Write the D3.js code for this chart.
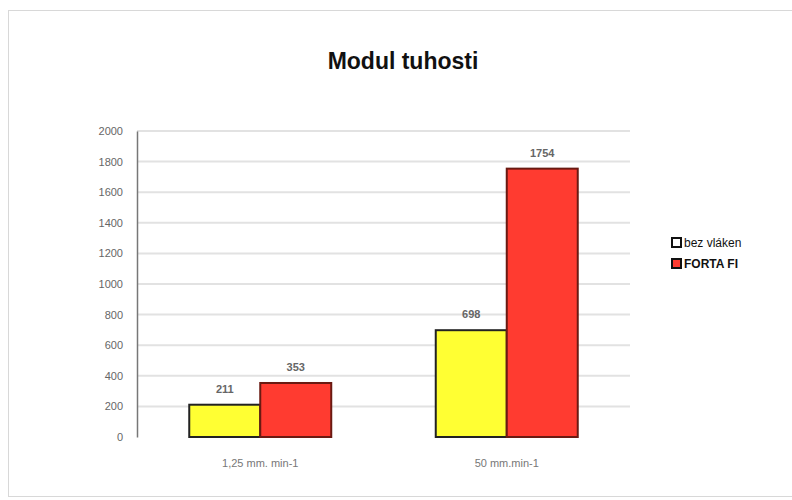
<!DOCTYPE html>
<html lang="cs">
<head>
<meta charset="utf-8">
<title>Modul tuhosti</title>
<style>
  body { margin: 0; background: #fff; }
  svg { display: block; font-family: Arial, "Liberation Sans", sans-serif; }
</style>
</head>
<body>
<svg width="792" height="500"></svg>
<script src="https://d3js.org/d3.v7.min.js"></script>
<script>
const categories = ["1,25 mm. min-1", "50 mm.min-1"];
const seriesNames = ["bez vláken", "FORTA FI"];
const bezVlaken = [211, 698];
const fortaFi = [353, 1754];
const yTicks = [0, 200, 400, 600, 800, 1000, 1200, 1400, 1600, 1800, 2000];

const fills = ["#ffff33", "#ff3b30"];
const strokes = ["#222", "#6a1a12"];

const svg = d3.select("svg");

// outer frame
svg.append("rect")
  .attr("x", 8.5).attr("y", 10.5)
  .attr("width", 790).attr("height", 486)
  .attr("fill", "none").attr("stroke", "#d8d8d8");

svg.append("text")
  .attr("x", 403).attr("y", 69)
  .attr("text-anchor", "middle")
  .attr("font-size", 23).attr("font-weight", "bold")
  .attr("fill", "#111")
  .text("Modul tuhosti");

const x0 = d3.scaleBand().domain(categories).range([137, 630]);
const x1 = d3.scaleBand().domain(seriesNames).range([0, x0.bandwidth()]).paddingOuter(0.736);
const y = d3.scaleLinear().domain([0, 2000]).range([437, 131]);

// gridlines
svg.append("g")
  .selectAll("line")
  .data(yTicks.slice(1))
  .join("line")
    .attr("x1", 137).attr("x2", 630)
    .attr("y1", d => y(d)).attr("y2", d => y(d))
    .attr("stroke", "#e2e2e2").attr("stroke-width", 2);

// y axis
const yAxis = svg.append("g")
  .attr("transform", "translate(137,0)")
  .call(d3.axisLeft(y).tickValues(yTicks).tickFormat(d3.format("d")).tickSize(0).tickPadding(14));
yAxis.select(".domain").attr("stroke", "#777").attr("stroke-width", 1.5);
yAxis.selectAll("text").attr("font-size", 11).attr("fill", "#666").attr("font-family", "Arial, sans-serif");

// x axis labels
const xAxis = svg.append("g")
  .attr("transform", "translate(0,437)")
  .call(d3.axisBottom(x0).tickSize(0).tickPadding(22));
xAxis.select(".domain").remove();
xAxis.selectAll("text").attr("font-size", 11).attr("fill", "#777").attr("font-family", "Arial, sans-serif");

const rows = categories.map((c, i) => ({ cat: c, vals: [bezVlaken[i], fortaFi[i]] }));

const groups = svg.append("g")
  .selectAll("g")
  .data(rows)
  .join("g")
    .attr("transform", d => `translate(${x0(d.cat)},0)`);

groups.selectAll("rect")
  .data(d => d.vals.map((v, j) => ({ name: seriesNames[j], v, j })))
  .join("rect")
    .attr("x", d => x1(d.name))
    .attr("y", d => y(d.v))
    .attr("width", x1.bandwidth())
    .attr("height", d => y(0) - y(d.v))
    .attr("fill", d => fills[d.j])
    .attr("stroke", d => strokes[d.j])
    .attr("stroke-width", 2);

groups.selectAll("text")
  .data(d => d.vals.map((v, j) => ({ name: seriesNames[j], v })))
  .join("text")
    .attr("x", d => x1(d.name) + x1.bandwidth() / 2)
    .attr("y", d => y(d.v) - 12)
    .attr("text-anchor", "middle")
    .attr("font-size", 11).attr("font-weight", "bold")
    .attr("fill", "#666")
    .text(d => d.v);

// legend
const legend = svg.append("g")
  .selectAll("g")
  .data(seriesNames)
  .join("g")
    .attr("transform", (d, i) => `translate(672,${238 + i * 21})`);
legend.append("rect")
  .attr("width", 9).attr("height", 9)
  .attr("fill", (d, i) => i === 0 ? "#fff" : "#ff3b30")
  .attr("stroke", "#111").attr("stroke-width", 2);
legend.append("text")
  .attr("x", 12).attr("y", 9)
  .attr("font-size", 12)
  .attr("font-weight", (d, i) => i === 1 ? "bold" : "normal")
  .attr("fill", "#111")
  .text(d => d);
</script>
</body>
</html>
